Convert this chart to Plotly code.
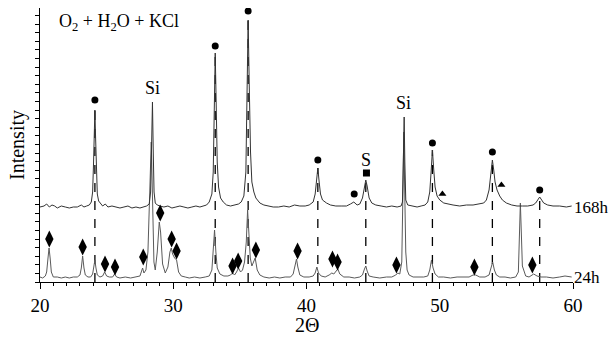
import plotly.graph_objects as go

# ---------------- data (intensity in arbitrary units) ----------------
x_168h = [20.0, 20.3, 20.5, 20.7, 20.9, 21.1, 21.3, 21.6, 21.9, 22.2, 22.5, 22.8, 23.1, 23.3, 23.5, 23.7,
          23.85, 23.95, 24.02, 24.08, 24.12, 24.16, 24.22, 24.3, 24.4, 24.55, 24.7, 24.9, 25.1, 25.4, 25.7,
          26.0, 26.3, 26.6, 26.9, 27.2, 27.5, 27.8, 28.0, 28.2, 28.3, 28.38, 28.44, 28.5, 28.56, 28.65, 28.8,
          29.0, 29.3, 29.6, 29.9, 30.2, 30.5, 30.8, 31.1, 31.4, 31.7, 32.0, 32.3, 32.5, 32.7, 32.9, 33.0,
          33.08, 33.15, 33.22, 33.3, 33.4, 33.55, 33.75, 34.0, 34.3, 34.6, 34.9, 35.1, 35.3, 35.45, 35.55,
          35.62, 35.7, 35.8, 35.9, 36.05, 36.2, 36.5, 36.8, 37.1, 37.5, 37.9, 38.3, 38.7, 39.1, 39.5, 39.9,
          40.2, 40.5, 40.65, 40.75, 40.85, 40.95, 41.05, 41.2, 41.5, 41.8, 42.2, 42.6, 43.0, 43.3, 43.55,
          43.8, 44.0, 44.2, 44.35, 44.45, 44.55, 44.7, 44.9, 45.2, 45.6, 46.0, 46.4, 46.8, 47.1, 47.2, 47.28,
          47.33, 47.38, 47.45, 47.6, 47.9, 48.3, 48.6, 48.9, 49.1, 49.25, 49.35, 49.45, 49.55, 49.65, 49.8,
          50.0, 50.3, 50.6, 51.0, 51.5, 52.0, 52.5, 53.0, 53.3, 53.5, 53.7, 53.85, 53.95, 54.05, 54.15, 54.3,
          54.5, 54.7, 55.0, 55.4, 55.8, 56.2, 56.6, 57.0, 57.2, 57.4, 57.5, 57.6, 57.8, 58.1, 58.5, 59.0,
          59.5, 59.9]
y_168h = [75, 76, 78, 75, 77, 76, 74, 76, 75, 74, 75, 75, 77, 75, 76, 77,
          80, 90, 120, 160, 172, 150, 110, 88, 81, 78, 76, 78, 75, 76, 75,
          74, 75, 76, 74, 75, 74, 75, 76, 78, 90, 140, 180, 130, 90, 79, 77,
          76, 75, 76, 74, 75, 76, 75, 74, 75, 76, 75, 76, 77, 80, 88, 110,
          170, 229, 180, 120, 95, 84, 80, 77, 76, 77, 78, 80, 86, 110, 190,
          262, 200, 130, 100, 90, 84, 79, 77, 76, 75, 75, 76, 75, 77, 76, 76,
          77, 80, 88, 100, 114, 100, 88, 82, 79, 77, 76, 76, 76, 78, 80,
          77, 78, 84, 96, 102, 96, 84, 79, 77, 76, 75, 76, 75, 76, 80, 130,
          165, 120, 82, 77, 76, 75, 76, 77, 80, 90, 110, 132, 112, 95, 86,
          82, 79, 78, 77, 76, 77, 77, 78, 79, 82, 92, 110, 122, 112, 100, 92,
          86, 82, 79, 77, 76, 76, 76, 77, 79, 83, 85, 83, 79, 77, 76, 76,
          75, 76]

x_24h = [20.0, 20.2, 20.4, 20.5, 20.6, 20.68, 20.76, 20.85, 21.0, 21.3, 21.6, 21.9, 22.2, 22.5, 22.8, 23.0,
         23.1, 23.2, 23.3, 23.4, 23.6, 23.8, 23.95, 24.05, 24.12, 24.2, 24.3, 24.5, 24.7, 24.85, 25.0, 25.2,
         25.45, 25.6, 25.75, 26.0, 26.4, 26.8, 27.2, 27.5, 27.6, 27.7, 27.8, 27.95, 28.1, 28.25, 28.35,
         28.45, 28.55, 28.65, 28.8, 28.95, 29.05, 29.2, 29.4, 29.6, 29.75, 29.85, 29.95, 30.1, 30.25, 30.4,
         30.6, 30.9, 31.2, 31.6, 32.0, 32.4, 32.7, 32.9, 33.0, 33.1, 33.2, 33.3, 33.5, 33.8, 34.1, 34.3,
         34.45, 34.6, 34.75, 34.9, 35.05, 35.2, 35.35, 35.48, 35.58, 35.66, 35.78, 35.9, 36.05, 36.15, 36.3,
         36.5, 36.8, 37.2, 37.6, 38.0, 38.4, 38.8, 39.0, 39.15, 39.25, 39.35, 39.5, 39.8, 40.2, 40.5, 40.65,
         40.78, 40.9, 41.1, 41.4, 41.7, 41.9, 42.05, 42.25, 42.35, 42.5, 42.8, 43.2, 43.6, 44.0, 44.2, 44.35,
         44.45, 44.55, 44.7, 45.0, 45.5, 46.0, 46.4, 46.7, 46.85, 47.0, 47.15, 47.25, 47.3, 47.36, 47.45,
         47.55, 47.7, 48.0, 48.4, 48.8, 49.1, 49.25, 49.38, 49.5, 49.65, 49.9, 50.3, 50.8, 51.3, 51.8, 52.2,
         52.5, 52.7, 53.0, 53.4, 53.7, 53.85, 53.97, 54.1, 54.25, 54.5, 54.9, 55.3, 55.7, 55.9, 56.0, 56.05,
         56.12, 56.2, 56.3, 56.45, 56.7, 56.9, 57.05, 57.3, 57.6, 58.0, 58.5, 59.0, 59.4, 59.9]
y_24h = [5, 4, 6, 10, 24, 34, 24, 10, 5, 5, 4, 5, 4, 5, 5, 7,
         14, 26, 14, 7, 5, 5, 8, 18, 22, 14, 7, 5, 6, 10, 6, 5,
         5, 8, 5, 4, 5, 4, 5, 6, 10, 14, 9, 12, 30, 90, 140,
         80, 20, 12, 30, 60, 50, 18, 9, 15, 30, 34, 28, 24, 22, 10,
         6, 5, 4, 5, 4, 5, 6, 12, 28, 52, 30, 14, 8, 6, 6, 7,
         9, 7, 10, 14, 10, 12, 20, 40, 72, 50, 24, 16, 20, 24, 12,
         7, 5, 4, 5, 4, 5, 5, 8, 16, 23, 15, 7, 5, 5, 6, 9,
         15, 9, 6, 5, 7, 9, 8, 12, 13, 8, 5, 5, 4, 5, 7, 13,
         16, 11, 6, 5, 4, 5, 5, 7, 9, 8, 20, 100, 150, 100, 30,
         12, 7, 5, 5, 5, 6, 12, 22, 14, 8, 5, 5, 4, 5, 5, 5,
         7, 7, 5, 5, 7, 14, 20, 12, 7, 5, 5, 4, 5, 10, 50, 79,
         50, 16, 12, 6, 5, 7, 8, 6, 5, 5, 4, 5, 6, 5]

# dashed reference lines (positions and 168h peak tops)
ref_x = [24.12, 33.15, 35.62, 40.85, 44.45, 49.45, 53.95, 57.5]
ref_top = [172, 229, 262, 114, 102, 132, 122, 85]

# phase markers
circle_x = [24.12, 33.15, 35.62, 40.85, 43.58, 49.45, 53.95, 57.5]
circle_y = [182, 236, 271, 122, 88, 139, 130, 92]
square_x = [44.5]
square_y = [109]
triangle_x = [50.2, 54.63]
triangle_y = [88, 97]
diamond_x = [20.7, 23.2, 24.88, 25.63, 27.75, 29.02, 29.88, 30.25, 34.45, 34.87, 36.2, 39.33,
             41.95, 42.33, 46.75, 52.6, 56.95]
diamond_y = [43, 35, 18, 15, 25, 69, 43, 31, 16, 21, 32, 31, 23, 20, 17, 15, 17]

# text labels
peak_labels = ["Si", "Si", "S"]
peak_label_x = [28.45, 47.3, 44.5]
peak_label_y = [194, 179, 122]
series_names = ["168h", "24h"]
series_label_y = [75, 5]
x_ticks = [20, 30, 40, 50, 60]

FONT = "Liberation Serif"

fig = go.Figure()

for xv, top in zip(ref_x, ref_top):
    fig.add_trace(go.Scatter(x=[xv, xv], y=[0, top], mode="lines",
                             line=dict(color="black", width=1.3, dash="dash"),
                             hoverinfo="skip", showlegend=False))

fig.add_trace(go.Scatter(x=x_24h, y=y_24h, mode="lines",
                         line=dict(color="#5a5a5a", width=1), showlegend=False))
fig.add_trace(go.Scatter(x=x_168h, y=y_168h, mode="lines",
                         line=dict(color="#333333", width=1), showlegend=False))

fig.add_trace(go.Scatter(x=circle_x, y=circle_y, mode="markers",
                         marker=dict(symbol="circle", size=7, color="black"), showlegend=False))
fig.add_trace(go.Scatter(x=square_x, y=square_y, mode="markers",
                         marker=dict(symbol="square", size=7, color="black"), showlegend=False))
fig.add_trace(go.Scatter(x=triangle_x, y=triangle_y, mode="markers",
                         marker=dict(symbol="triangle-up", size=7, color="black"), showlegend=False))
fig.add_trace(go.Scatter(x=diamond_x, y=diamond_y, mode="markers",
                         marker=dict(symbol="diamond-tall", size=12, color="black"), showlegend=False))

annotations = []
for t, xv, yv in zip(peak_labels, peak_label_x, peak_label_y):
    annotations.append(dict(x=xv, y=yv, xref="x", yref="y", text=t, showarrow=False,
                            font=dict(family=FONT, size=18, color="black"),
                            xanchor="center", yanchor="middle"))
for t, yv in zip(series_names, series_label_y):
    annotations.append(dict(x=1.0, y=yv, xref="paper", yref="y", text=t, showarrow=False,
                            font=dict(family=FONT, size=17, color="black"),
                            xanchor="left", yanchor="middle", xshift=-1))
annotations.append(dict(x=21.3, y=260, xref="x", yref="y",
                        text="O<sub>2</sub> + H<sub>2</sub>O + KCl", showarrow=False,
                        font=dict(family=FONT, size=18, color="black"),
                        xanchor="left", yanchor="middle"))
annotations.append(dict(x=0, y=0.5, xref="paper", yref="paper", text="Intensity",
                        showarrow=False, textangle=-90, xshift=-23,
                        font=dict(family=FONT, size=20, color="black"),
                        xanchor="center", yanchor="middle"))
annotations.append(dict(x=0.5, y=0, xref="paper", yref="paper", text="2Θ",
                        showarrow=False, yshift=-43,
                        font=dict(family=FONT, size=20, color="black"),
                        xanchor="center", yanchor="middle"))

fig.update_layout(
    width=611, height=338,
    margin=dict(l=40, r=38, t=8, b=56),
    paper_bgcolor="white", plot_bgcolor="white",
    annotations=annotations,
    xaxis=dict(range=[20, 60], tickvals=x_ticks, ticktext=[str(v) for v in x_ticks],
               showline=True, linecolor="black", linewidth=1,
               ticks="outside", ticklen=6, tickcolor="black",
               minor=dict(dtick=1, ticks="outside", ticklen=3, tickcolor="black"),
               showgrid=False, zeroline=False,
               tickfont=dict(family=FONT, size=19, color="black")),
    yaxis=dict(range=[0, 274], showline=True, linecolor="black", linewidth=1,
               ticks="outside", ticklen=4, tickcolor="black", tick0=0, dtick=8.6,
               showticklabels=False, showgrid=False, zeroline=False),
)

fig.write_html("out.html")
